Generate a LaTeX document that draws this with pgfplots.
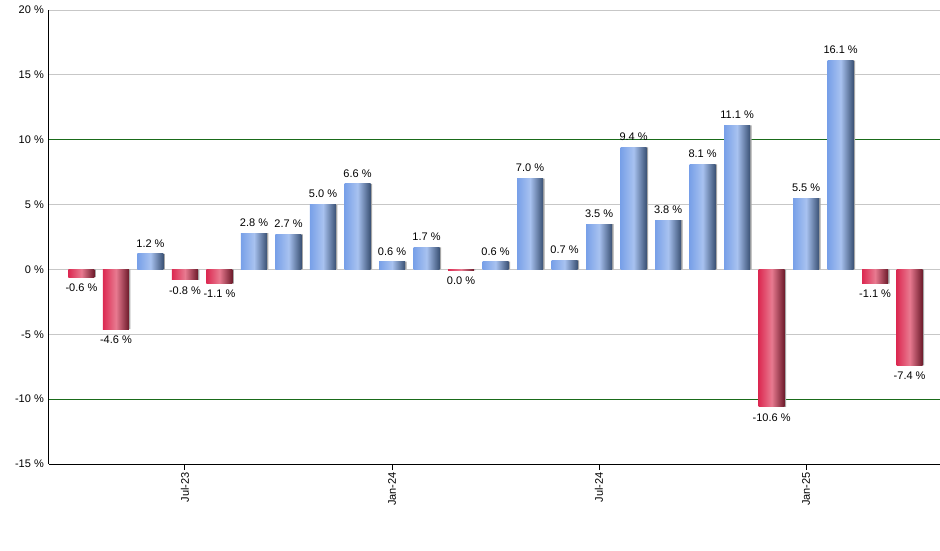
\documentclass[border=0pt]{standalone}
\usepackage{fontspec}
\setmainfont{Liberation Sans}
\usepackage{pgfplots}
\pgfplotsset{compat=1.18}
\definecolor{bluL}{HTML}{78A0E8}
\definecolor{bluM}{HTML}{A8C2F0}
\definecolor{bluR}{HTML}{3A5174}
\definecolor{redL}{HTML}{DC2A52}
\definecolor{redM}{HTML}{E87A90}
\definecolor{redR}{HTML}{6C1A2A}
\definecolor{gridgreen}{HTML}{1A6B1A}
\pgfplotsset{
    posbar/.style={ybar, bar width=26pt, bar shift=0pt, draw=none,
        left color=bluL, right color=bluR, middle color=bluM,
        point meta=explicit symbolic, nodes near coords,
        every node near coord/.append style={anchor=south, yshift=3pt}},
    negbar/.style={ybar, bar width=26pt, bar shift=0pt, draw=none,
        left color=redL, right color=redR, middle color=redM,
        point meta=explicit symbolic, nodes near coords,
        every node near coord/.append style={anchor=north, yshift=-3pt}},
}
\begin{document}
\begin{tikzpicture}
\path[use as bounding box] (0,0) rectangle (940pt,550pt);
\begin{axis}[
    at={(49pt,86pt)}, anchor=south west,
    scale only axis, width=891pt, height=454pt,
    xmin=-0.94, xmax=24.88, ymin=-15, ymax=20,
    axis x line=bottom, axis y line=left,
    axis line style={-, black, line width=1pt},
    ytick={-15,-10,...,20},
    yticklabels={-15 \%,-10 \%,-5 \%,0 \%,5 \%,10 \%,15 \%,20 \%},
    ymajorgrids,
    grid style={black!22, line width=0.8pt},
    extra y ticks={-10,10},
    extra y tick labels={},
    extra y tick style={grid style={gridgreen, line width=1pt}},
    ytick style={draw=none},
    xtick={3,9,15,21},
    xticklabels={Jul-23,Jan-24,Jul-24,Jan-25},
    xtick align=outside,
    xtick style={black, line width=1pt},
    major tick length=6pt,
    xticklabel style={rotate=90, anchor=east, inner sep=2pt},
    yticklabel style={inner sep=2pt},
    ticklabel style={font=\fontsize{11}{13}\selectfont},
    every node near coord/.append style={font=\fontsize{11}{13}\selectfont, black},
]
% shadow behind the bars
\addplot[ybar, bar width=26pt, bar shift=1.5pt, fill=black!35, draw=none] coordinates {
    (0,-0.6) (1,-4.6) (2,1.2) (3,-0.8) (4,-1.1) (5,2.8) (6,2.7) (7,5.0) (8,6.6)
    (9,0.6) (10,1.7) (11,-0.05) (12,0.6) (13,7.0) (14,0.7) (15,3.5) (16,9.4)
    (17,3.8) (18,8.1) (19,11.1) (20,-10.6) (21,5.5) (22,16.1) (23,-1.1) (24,-7.4)
};
% one plot per bar, so each bar gets its own shading
\addplot[negbar] coordinates {(0,-0.6) [-0.6 \%]};
\addplot[negbar] coordinates {(1,-4.6) [-4.6 \%]};
\addplot[posbar] coordinates {(2,1.2) [1.2 \%]};
\addplot[negbar] coordinates {(3,-0.8) [-0.8 \%]};
\addplot[negbar] coordinates {(4,-1.1) [-1.1 \%]};
\addplot[posbar] coordinates {(5,2.8) [2.8 \%]};
\addplot[posbar] coordinates {(6,2.7) [2.7 \%]};
\addplot[posbar] coordinates {(7,5.0) [5.0 \%]};
\addplot[posbar] coordinates {(8,6.6) [6.6 \%]};
\addplot[posbar] coordinates {(9,0.6) [0.6 \%]};
\addplot[posbar] coordinates {(10,1.7) [1.7 \%]};
\addplot[negbar] coordinates {(11,-0.05) [0.0 \%]};
\addplot[posbar] coordinates {(12,0.6) [0.6 \%]};
\addplot[posbar] coordinates {(13,7.0) [7.0 \%]};
\addplot[posbar] coordinates {(14,0.7) [0.7 \%]};
\addplot[posbar] coordinates {(15,3.5) [3.5 \%]};
\addplot[posbar] coordinates {(16,9.4) [9.4 \%]};
\addplot[posbar] coordinates {(17,3.8) [3.8 \%]};
\addplot[posbar] coordinates {(18,8.1) [8.1 \%]};
\addplot[posbar] coordinates {(19,11.1) [11.1 \%]};
\addplot[negbar] coordinates {(20,-10.6) [-10.6 \%]};
\addplot[posbar] coordinates {(21,5.5) [5.5 \%]};
\addplot[posbar] coordinates {(22,16.1) [16.1 \%]};
\addplot[negbar] coordinates {(23,-1.1) [-1.1 \%]};
\addplot[negbar] coordinates {(24,-7.4) [-7.4 \%]};
\end{axis}
\end{tikzpicture}
\end{document}
